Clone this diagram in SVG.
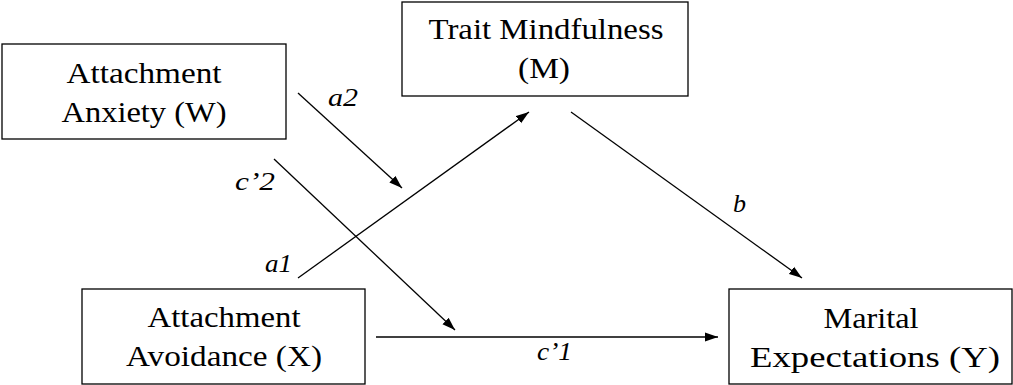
<svg xmlns="http://www.w3.org/2000/svg" width="1013" height="385" viewBox="0 0 1013 385">
<style>
.box{fill:#fff;stroke:#000;stroke-width:1.3}
.t{font-size:30px;fill:#000;text-anchor:middle}
.l{font-size:26px;font-style:italic;fill:#000}
.c{stroke:#000;stroke-width:1.3;fill:none;marker-end:url(#ah)}
</style>
<defs>
<marker id="ah" markerUnits="userSpaceOnUse" markerWidth="14" markerHeight="10" refX="13" refY="5" orient="auto">
<path d="M0,0.5 L13,5 L0,9.5 z" fill="#000"/>
</marker>
</defs>
<rect width="1013" height="385" fill="#fff"/>
<g font-family="'Liberation Serif', 'DejaVu Serif', serif">
<g id="node-W">
<rect class="box" x="2" y="44" width="284" height="95"/>
<text class="t" x="144" y="83" textLength="155" lengthAdjust="spacingAndGlyphs">Attachment</text>
<text class="t" x="144" y="122" textLength="165" lengthAdjust="spacingAndGlyphs">Anxiety (W)</text>
</g>
<g id="node-M">
<rect class="box" x="402" y="2" width="286" height="94"/>
<text class="t" x="546" y="39" textLength="235" lengthAdjust="spacingAndGlyphs">Trait Mindfulness</text>
<text class="t" x="544" y="78" textLength="52" lengthAdjust="spacingAndGlyphs">(M)</text>
</g>
<g id="node-X">
<rect class="box" x="82" y="289" width="283" height="95"/>
<text class="t" x="224" y="327" textLength="153" lengthAdjust="spacingAndGlyphs">Attachment</text>
<text class="t" x="224" y="366" textLength="196" lengthAdjust="spacingAndGlyphs">Avoidance (X)</text>
</g>
<g id="node-Y">
<rect class="box" x="729" y="289" width="283" height="95"/>
<text class="t" x="871" y="328" textLength="95" lengthAdjust="spacingAndGlyphs">Marital</text>
<text class="t" x="875" y="367" textLength="250" lengthAdjust="spacingAndGlyphs">Expectations (Y)</text>
</g>
<g id="connectors">
<line class="c" x1="298" y1="93" x2="402" y2="188"/>
<line class="c" x1="274" y1="159" x2="455" y2="330"/>
<line class="c" x1="298" y1="278" x2="529" y2="112"/>
<line class="c" x1="571" y1="112" x2="802" y2="278"/>
<line class="c" x1="376" y1="337" x2="718" y2="337"/>
</g>
<g id="labels">
<text class="l" x="328" y="106" textLength="30" lengthAdjust="spacingAndGlyphs">a2</text>
<text class="l" x="235" y="190" textLength="40" lengthAdjust="spacingAndGlyphs">c’2</text>
<text class="l" x="265" y="272" textLength="27" lengthAdjust="spacingAndGlyphs">a1</text>
<text class="l" x="733" y="212" textLength="13" lengthAdjust="spacingAndGlyphs">b</text>
<text class="l" x="537" y="360" textLength="35" lengthAdjust="spacingAndGlyphs">c’1</text>
</g>
</g>
</svg>
